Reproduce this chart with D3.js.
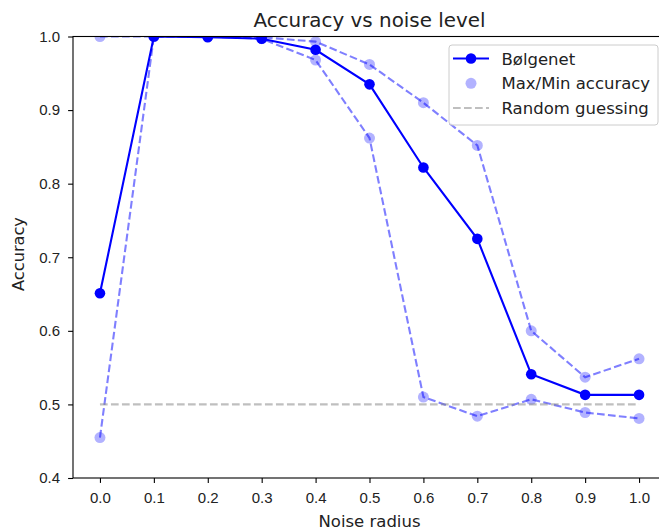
<!DOCTYPE html>
<html>
<head>
<meta charset="utf-8">
<script src="https://cdn.jsdelivr.net/npm/d3@7"></script>
<style>
    body { margin: 0; background: #fff; }
    svg { font-family: "DejaVu Sans", sans-serif; }
    .tick text { font-size: 15px; fill: #222; }
    .tick line { stroke: #000; stroke-width: 1.1; }
    .domain { display: none; }
</style>
</head>
<body>
<svg id="view" width="659" height="532"></svg>
<script>
const noise = [0.0, 0.1, 0.2, 0.3, 0.4, 0.5, 0.6, 0.7, 0.8, 0.9, 1.0];
const bolgenet = [0.651, 1.0, 0.999, 0.997, 0.982, 0.935, 0.822, 0.725, 0.541, 0.513, 0.513];
const maxAcc = [1.0, 1.0, 1.0, 0.999, 0.993, 0.962, 0.910, 0.852, 0.600, 0.537, 0.562];
const minAcc = [0.455, 1.0, 1.0, 0.997, 0.968, 0.862, 0.510, 0.484, 0.507, 0.489, 0.481];
const randomGuess = 0.5;
const xTicks = [0.0, 0.1, 0.2, 0.3, 0.4, 0.5, 0.6, 0.7, 0.8, 0.9, 1.0];
const yTicks = [0.4, 0.5, 0.6, 0.7, 0.8, 0.9, 1.0];
const legendLabels = ['Bølgenet', 'Max/Min accuracy', 'Random guessing'];

const svg = d3.select('svg#view');
const margin = { left: 73, top: 36.5, right: 666, bottom: 478 };

const x = d3.scaleLinear().domain([-0.05, 1.05]).range([margin.left, margin.right]);
const y = d3.scaleLinear().domain([0.4, 1.0]).range([margin.bottom, margin.top]);

svg.append('defs').append('clipPath').attr('id', 'clip')
    .append('rect')
    .attr('x', margin.left).attr('y', margin.top)
    .attr('width', margin.right - margin.left)
    .attr('height', margin.bottom - margin.top);

// axes
svg.append('g')
    .attr('transform', 'translate(0,' + margin.bottom + ')')
    .call(d3.axisBottom(x).tickValues(xTicks).tickFormat(d3.format('.1f')).tickSizeOuter(0).tickSize(4.9).tickPadding(9));
svg.append('g')
    .attr('transform', 'translate(' + margin.left + ',0)')
    .call(d3.axisLeft(y).tickValues(yTicks).tickFormat(d3.format('.1f')).tickSizeOuter(0).tickSize(4.9).tickPadding(8));

const plot = svg.append('g').attr('clip-path', 'url(#clip)');
const pts = function(arr) {
    return noise.map(function(n, i) { return [n, arr[i]]; });
};
const line = d3.line().x(function(d) { return x(d[0]); }).y(function(d) { return y(d[1]); });

// main line
plot.append('path')
    .attr('d', line(pts(bolgenet)))
    .attr('fill', 'none')
    .attr('stroke', '#0000ff')
    .attr('stroke-width', 2.1);
plot.selectAll('circle.main')
    .data(pts(bolgenet))
    .enter()
    .append('circle')
    .attr('class', 'main')
    .attr('cx', function(d) { return x(d[0]); })
    .attr('cy', function(d) { return y(d[1]); })
    .attr('r', 5.3)
    .attr('fill', '#0000ff');

// max / min dashed
[maxAcc, minAcc].forEach(function(arr) {
    plot.append('path')
        .attr('d', line(pts(arr)))
        .attr('fill', 'none')
        .attr('stroke', '#0000ff')
        .attr('stroke-opacity', 0.5)
        .attr('stroke-width', 2.1)
        .attr('stroke-dasharray', '7.7,3.3');
});
[maxAcc, minAcc].forEach(function(arr) {
    plot.append('g')
        .selectAll('circle')
        .data(pts(arr))
        .enter()
        .append('circle')
        .attr('cx', function(d) { return x(d[0]); })
        .attr('cy', function(d) { return y(d[1]); })
        .attr('r', 5.5)
        .attr('fill', '#0000ff')
        .attr('fill-opacity', 0.3);
});

// random guessing
plot.append('line')
    .attr('x1', x(noise[0])).attr('x2', x(noise[noise.length - 1]))
    .attr('y1', y(randomGuess)).attr('y2', y(randomGuess))
    .attr('stroke', '#808080')
    .attr('stroke-opacity', 0.5)
    .attr('stroke-width', 2.1)
    .attr('stroke-dasharray', '7.7,3.3');

// spines
svg.append('rect')
    .attr('x', margin.left).attr('y', margin.top)
    .attr('width', margin.right - margin.left)
    .attr('height', margin.bottom - margin.top)
    .attr('fill', 'none')
    .attr('stroke', '#000')
    .attr('stroke-width', 1.1);

// labels
svg.append('text')
    .attr('x', (margin.left + margin.right) / 2).attr('y', 26.5)
    .attr('text-anchor', 'middle')
    .attr('font-size', 19.9)
    .attr('fill', '#222')
    .text('Accuracy vs noise level');
svg.append('text')
    .attr('x', (margin.left + margin.right) / 2).attr('y', 526.5)
    .attr('text-anchor', 'middle')
    .attr('font-size', 16.5)
    .attr('fill', '#222')
    .text('Noise radius');
svg.append('text')
    .attr('transform', 'translate(24,' + 254 + ') rotate(-90)')
    .attr('text-anchor', 'middle')
    .attr('font-size', 16.2)
    .attr('fill', '#222')
    .text('Accuracy');

// legend
const legend = svg.append('g').attr('transform', 'translate(449,45)');
legend.append('rect')
    .attr('width', 209).attr('height', 80)
    .attr('rx', 3)
    .attr('fill', '#fff').attr('fill-opacity', 0.8)
    .attr('stroke', '#cccccc');
const rowY = [13.5, 38.3, 63];
legendLabels.forEach(function(label, i) {
    const g = legend.append('g').attr('transform', 'translate(0,' + rowY[i] + ')');
    if (i === 0) {
        g.append('line').attr('x1', 4).attr('x2', 40)
            .attr('stroke', '#0000ff').attr('stroke-width', 2.1);
        g.append('circle').attr('cx', 22).attr('r', 5.3).attr('fill', '#0000ff');
    } else if (i === 1) {
        g.append('circle').attr('cx', 22).attr('r', 5.5)
            .attr('fill', '#0000ff').attr('fill-opacity', 0.3);
    } else {
        g.append('line').attr('x1', 4).attr('x2', 40)
            .attr('stroke', '#808080').attr('stroke-opacity', 0.5)
            .attr('stroke-width', 2.1).attr('stroke-dasharray', '7.7,3.3');
    }
    g.append('text')
        .attr('x', 52.5).attr('y', 6)
        .attr('font-size', 16.5)
        .attr('fill', '#222')
        .text(label);
});
</script>
</body>
</html>
